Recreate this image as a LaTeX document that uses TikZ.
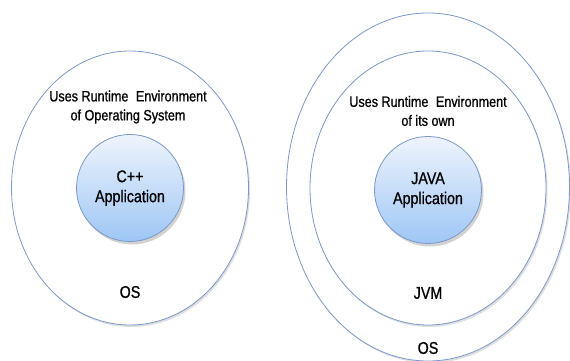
\documentclass[tikz,border=0pt]{standalone}
\usepackage{fontspec}
\setmainfont{Liberation Sans}[FakeStretch=0.84, FakeBold=0.8]
\usetikzlibrary{
    shapes.geometric,
    shadows
}

\definecolor{ringline}{RGB}{124,152,202}
\definecolor{apptop}{RGB}{238,244,252}
\definecolor{appbottom}{RGB}{158,198,245}

\tikzset{
    ring/.style={draw=ringline, fill=white, line width=0.8pt, ellipse, inner sep=0pt,
        drop shadow={shadow xshift=1.5pt, shadow yshift=-2pt, opacity=0.25, fill=gray}},
    app/.style={draw=ringline, line width=0.8pt, circle, inner sep=0pt,
        minimum size=107pt, top color=apptop, bottom color=appbottom,
        drop shadow={shadow xshift=2pt, shadow yshift=-3pt, opacity=0.35, fill=gray},
        align=center, font=\fontsize{17}{20}\selectfont},
    label text/.style={align=center, font=\fontsize{15}{19}\selectfont},
    ring text/.style={font=\fontsize{17}{20}\selectfont}
}

\begin{document}
\begin{tikzpicture}[x=1pt, y=1pt]
\useasboundingbox (0,0) rectangle (570,361);

% C++ side
\node[ring, minimum width=237pt, minimum height=274pt] (cos) at (130,173) {};
\node[app] (capp) at (130,173) {C++\\Application};
\node[label text] (ctext) at (128,254) {Uses Runtime\hspace{4pt} Environment\\of Operating System};
\node[ring text] (cosl) at (130,69) {OS};

% Java side
\node[ring, minimum width=283pt, minimum height=348pt] (jos) at (428,174) {};
\node[ring, minimum width=236pt, minimum height=274pt] (jvm) at (428,173) {};
\node[app] (japp) at (428,171) {JAVA\\Application};
\node[label text] (jtext) at (428,250) {Uses Runtime\hspace{4pt} Environment\\of its own};
\node[ring text] (jvml) at (428,68) {JVM};
\node[ring text] (josl) at (428,13) {OS};
\end{tikzpicture}
\end{document}
